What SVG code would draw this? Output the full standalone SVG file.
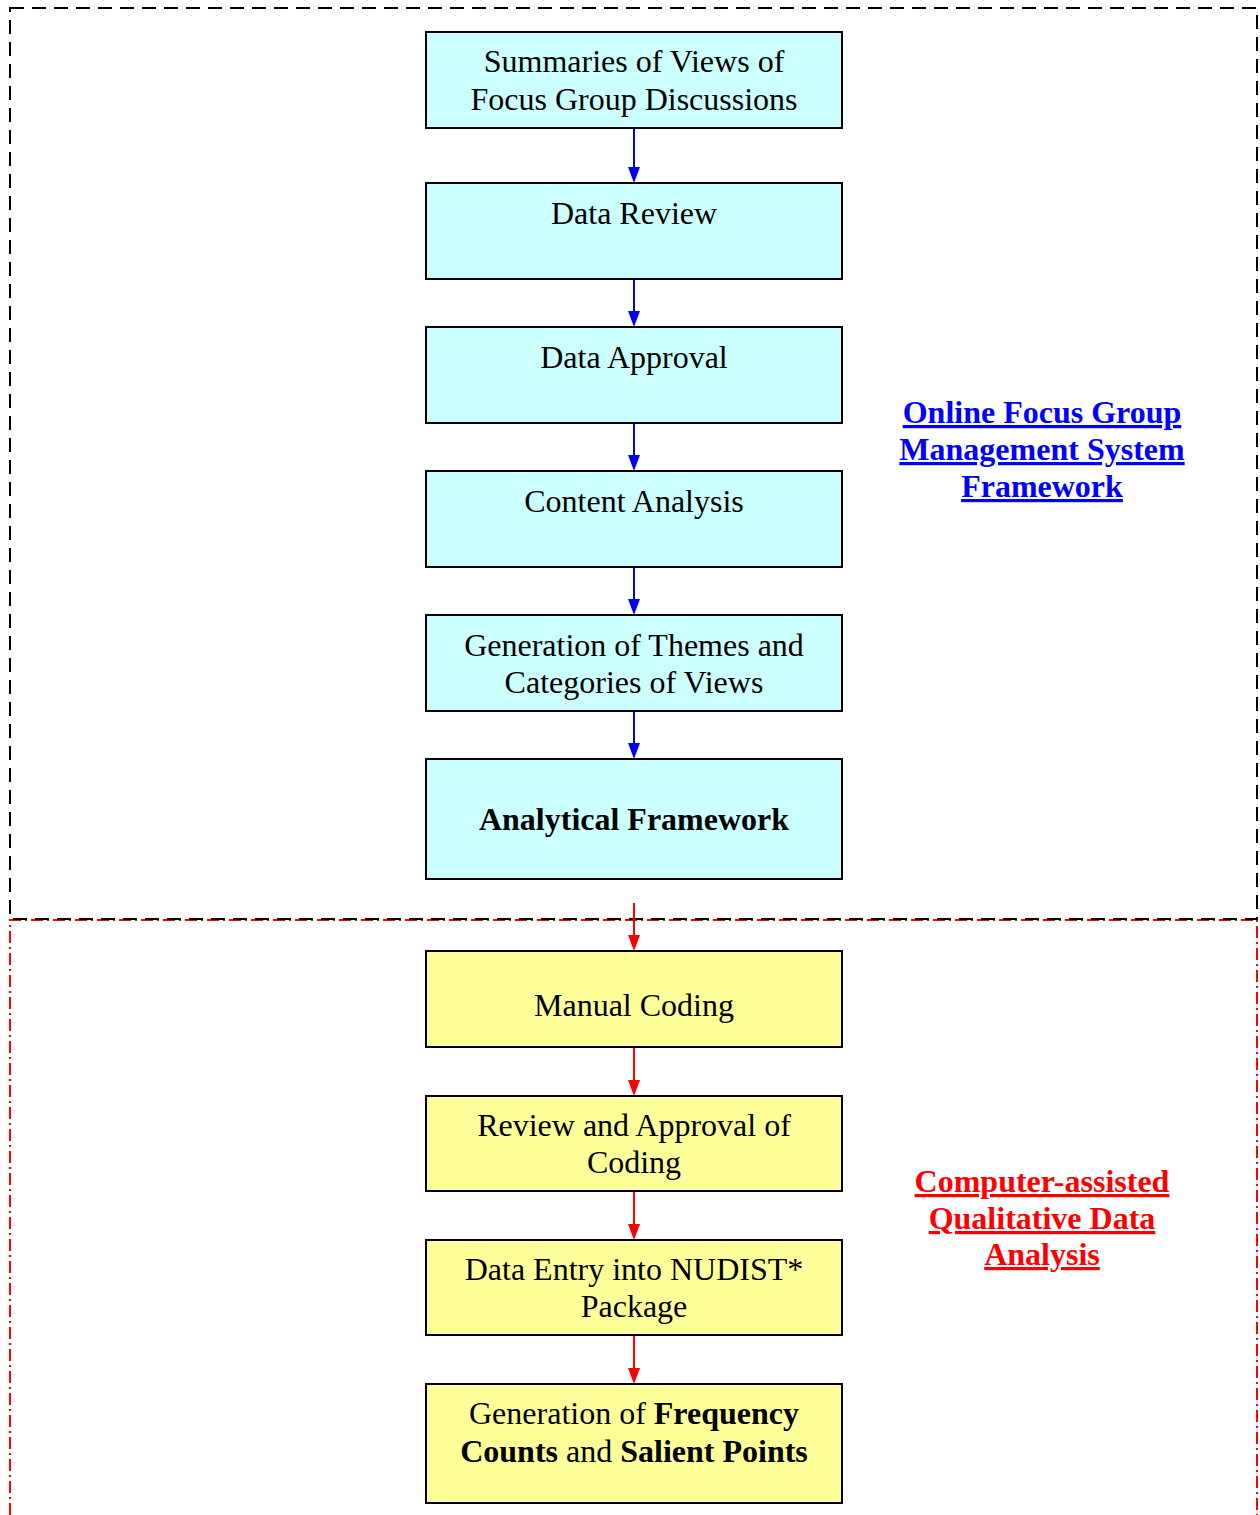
<svg xmlns="http://www.w3.org/2000/svg" width="1260" height="1515" viewBox="0 0 1260 1515">
<style>
.b{stroke:#000;stroke-width:2}
.cy{fill:#ccffff}
.yl{fill:#ffff99}
.t{font-family:"Liberation Serif","Times New Roman",serif;font-size:32px;fill:#000;text-anchor:middle}
.bd{font-weight:bold}
.lb{font-family:"Liberation Serif","Times New Roman",serif;font-size:32px;font-weight:bold;text-anchor:middle;text-decoration:underline}
.ab{stroke:#0000ff;stroke-width:2;fill:none}
.ar{stroke:#ff0000;stroke-width:2;fill:none}
</style>
<rect width="1260" height="1515" fill="#fff"/>
<g id="frames">
<path d="M10,1515 L10,920 L1257,920 L1257,1515" fill="none" stroke="#ff0000" stroke-width="2" stroke-dasharray="12 4 2 4"/>
<rect x="10" y="8" width="1247" height="911" fill="none" stroke="#000" stroke-width="2" stroke-dasharray="14 8"/>
</g>
<g id="connectors">
<line class="ab" x1="634" y1="128" x2="634" y2="167"/><path d="M628,167 L640,167 L634,183 Z" fill="#0000ff"/>
<line class="ab" x1="634" y1="279" x2="634" y2="311"/><path d="M628,311 L640,311 L634,327 Z" fill="#0000ff"/>
<line class="ab" x1="634" y1="423" x2="634" y2="455"/><path d="M628,455 L640,455 L634,471 Z" fill="#0000ff"/>
<line class="ab" x1="634" y1="567" x2="634" y2="599"/><path d="M628,599 L640,599 L634,615 Z" fill="#0000ff"/>
<line class="ab" x1="634" y1="711" x2="634" y2="743"/><path d="M628,743 L640,743 L634,759 Z" fill="#0000ff"/>
<line class="ar" x1="634" y1="903" x2="634" y2="935"/><path d="M628,935 L640,935 L634,951 Z" fill="#ff0000"/>
<line class="ar" x1="634" y1="1047" x2="634" y2="1080"/><path d="M628,1080 L640,1080 L634,1096 Z" fill="#ff0000"/>
<line class="ar" x1="634" y1="1191" x2="634" y2="1224"/><path d="M628,1224 L640,1224 L634,1240 Z" fill="#ff0000"/>
<line class="ar" x1="634" y1="1335" x2="634" y2="1368"/><path d="M628,1368 L640,1368 L634,1384 Z" fill="#ff0000"/>
</g>
<g id="n1"><rect class="b cy" x="426" y="32" width="416" height="96"/><text class="t" x="634" y="72">Summaries of Views of</text><text class="t" x="634" y="110">Focus Group Discussions</text></g>
<g id="n2"><rect class="b cy" x="426" y="183" width="416" height="96"/><text class="t" x="634" y="224">Data Review</text></g>
<g id="n3"><rect class="b cy" x="426" y="327" width="416" height="96"/><text class="t" x="634" y="368">Data Approval</text></g>
<g id="n4"><rect class="b cy" x="426" y="471" width="416" height="96"/><text class="t" x="634" y="512">Content Analysis</text></g>
<g id="n5"><rect class="b cy" x="426" y="615" width="416" height="96"/><text class="t" x="634" y="656">Generation of Themes and</text><text class="t" x="634" y="693">Categories of Views</text></g>
<g id="n6"><rect class="b cy" x="426" y="759" width="416" height="120"/><text class="t bd" x="634" y="830">Analytical Framework</text></g>
<g id="n7"><rect class="b yl" x="426" y="951" width="416" height="96"/><text class="t" x="634" y="1016">Manual Coding</text></g>
<g id="n8"><rect class="b yl" x="426" y="1096" width="416" height="95"/><text class="t" x="634" y="1136">Review and Approval of</text><text class="t" x="634" y="1173">Coding</text></g>
<g id="n9"><rect class="b yl" x="426" y="1240" width="416" height="95"/><text class="t" x="634" y="1280">Data Entry into NUDIST*</text><text class="t" x="634" y="1317">Package</text></g>
<g id="n10"><rect class="b yl" x="426" y="1384" width="416" height="119"/><text class="t" x="634" y="1424">Generation of <tspan class="bd">Frequency</tspan></text><text class="t" x="634" y="1462"><tspan class="bd">Counts</tspan> and <tspan class="bd">Salient Points</tspan></text></g>
<g id="label-blue" fill="#0000ff"><text class="lb" x="1042" y="423">Online Focus Group</text><text class="lb" x="1042" y="460">Management System</text><text class="lb" x="1042" y="497">Framework</text></g>
<g id="label-red" fill="#ff0000"><text class="lb" x="1042" y="1192">Computer-assisted</text><text class="lb" x="1042" y="1229">Qualitative Data</text><text class="lb" x="1042" y="1265">Analysis</text></g>
</svg>
